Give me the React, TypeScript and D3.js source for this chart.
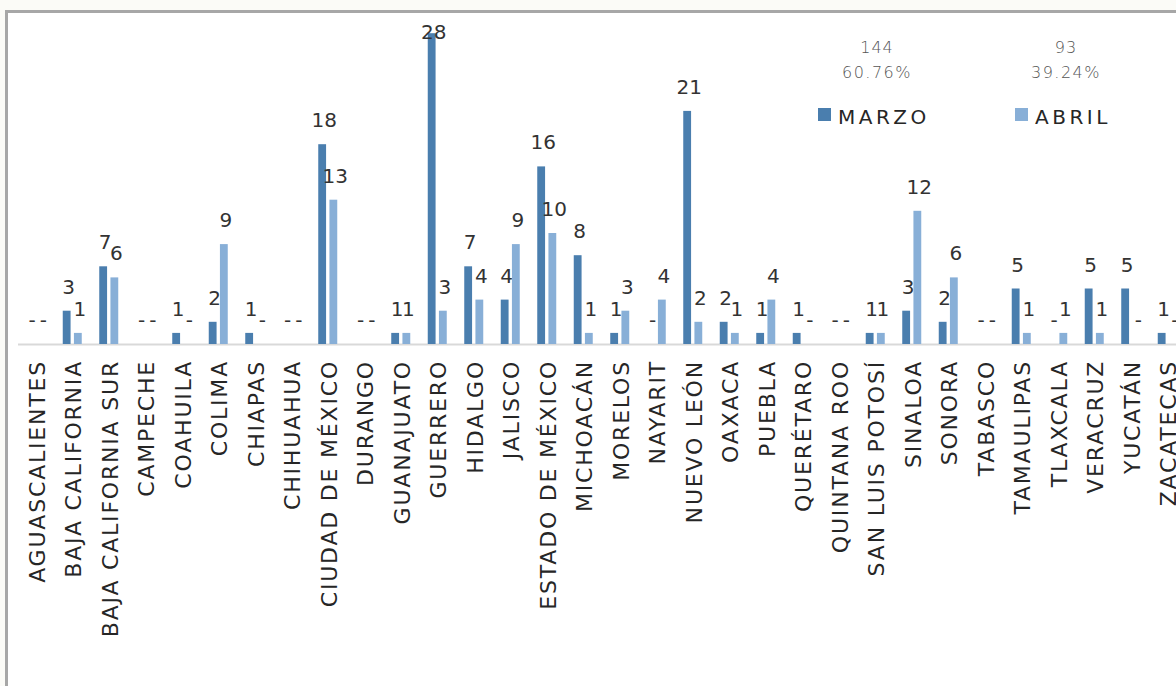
import React from "react";
import * as d3 from "d3";

const states = [
  "AGUASCALIENTES", "BAJA CALIFORNIA", "BAJA CALIFORNIA SUR", "CAMPECHE", "COAHUILA",
  "COLIMA", "CHIAPAS", "CHIHUAHUA", "CIUDAD DE MÉXICO", "DURANGO", "GUANAJUATO",
  "GUERRERO", "HIDALGO", "JALISCO", "ESTADO DE MÉXICO", "MICHOACÁN", "MORELOS",
  "NAYARIT", "NUEVO LEÓN", "OAXACA", "PUEBLA", "QUERÉTARO", "QUINTANA ROO",
  "SAN LUIS POTOSÍ", "SINALOA", "SONORA", "TABASCO", "TAMAULIPAS", "TLAXCALA",
  "VERACRUZ", "YUCATÁN", "ZACATECAS",
];

const marzo = [0, 3, 7, 0, 1, 2, 1, 0, 18, 0, 1, 28, 7, 4, 16, 8, 1, 0, 21, 2, 1, 1, 0, 1, 3, 2, 0, 5, 0, 5, 5, 1];
const abril = [0, 1, 6, 0, 0, 9, 0, 0, 13, 0, 1, 3, 4, 9, 10, 1, 3, 4, 2, 1, 4, 0, 0, 1, 12, 6, 0, 1, 1, 1, 0, 0];

const seriesNames = ["MARZO", "ABRIL"];
const seriesColors = ["#4a7eae", "#88afd7"];

const W = 1176;
const H = 686;
const FONT = "DejaVu Sans";

export default function App() {
  const baseY = 344;
  const x0 = d3.scaleBand<string>().domain(states).range([17.5, 17.5 + 36.5 * states.length]);
  const x1 = d3
    .scaleBand<string>()
    .domain(seriesNames)
    .range([x0.bandwidth() / 2 - 9.5, x0.bandwidth() / 2 + 9.5])
    .paddingInner(0.3);
  const y = d3.scaleLinear().domain([0, 30]).range([baseY, 11]);

  const data = [marzo, abril];
  const totals = data.map((s) => d3.sum(s));
  const grand = d3.sum(totals);
  const legendX = [818, 1015];
  const totalX = [877, 1066];

  return (
    <svg
      width={W}
      height={H}
      style={{ position: "absolute", left: 0, top: 0, background: "#fbfbf7" }}
      fontFamily={FONT}
    >
      <rect x={6.5} y={11.5} width={W + 20} height={H + 20} fill="#fff" stroke="#a7a7a7" strokeWidth={3} />
      <line x1={18} x2={W} y1={baseY + 0.5} y2={baseY + 0.5} stroke="#d9d9d9" strokeWidth={2} />

      {states.map((st, i) => (
        <g key={st} transform={`translate(${x0(st)},0)`}>
          {data.map((s, k) => {
            const v = s[i];
            const bx = x1(seriesNames[k])!;
            const cx = bx + x1.bandwidth() / 2;
            const top = y(v);
            const ly = Math.max(top - 17, 39);
            return (
              <g key={k}>
                {v > 0 && (
                  <rect x={bx} y={top} width={x1.bandwidth()} height={baseY - top} fill={seriesColors[k]} />
                )}
                <text x={cx + 2} y={ly} textAnchor="middle" fontSize={20} fill="#333">
                  {v > 0 ? v : "-"}
                </text>
              </g>
            );
          })}
          <text
            transform={`translate(${x0.bandwidth() / 2 + 9},360) rotate(-90)`}
            textAnchor="end"
            fontSize={22}
            letterSpacing={1.8}
            fill="#262626"
          >
            {st}
          </text>
        </g>
      ))}

      {seriesNames.map((n, k) => (
        <g key={n}>
          <text x={totalX[k]} y={53} textAnchor="middle" fontSize={16} letterSpacing={1} fill="#555" fontWeight={200}>
            {totals[k]}
          </text>
          <text x={totalX[k]} y={78} textAnchor="middle" fontSize={16} letterSpacing={1.5} fill="#555" fontWeight={200}>
            {((totals[k] / grand) * 100).toFixed(2)}%
          </text>
          <rect x={legendX[k]} y={108} width={13} height={13} fill={seriesColors[k]} />
          <text x={legendX[k] + 20} y={124} fontSize={20} letterSpacing={3.5} fill="#262626">
            {n}
          </text>
        </g>
      ))}
    </svg>
  );
}
